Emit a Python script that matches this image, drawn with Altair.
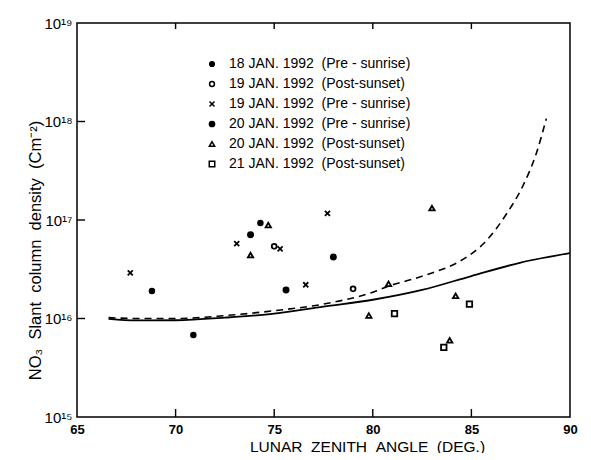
import json
import altair as alt
import pandas as pd

NB = "\u00a0"

# ---------------- data ----------------
series_labels = [
    "18 JAN. 1992" + NB * 2 + "(Pre - sunrise)",
    "19 JAN. 1992" + NB * 2 + "(Post-sunset)",
    "19 JAN. 1992" + NB * 2 + "(Pre - sunrise)",
    "20 JAN. 1992" + NB * 2 + "(Pre - sunrise)",
    "20 JAN. 1992" + NB * 2 + "(Post-sunset)",
    "21 JAN. 1992" + NB * 2 + "(Post-sunset)",
]

jan18_pre_x = [68.8, 70.9, 74.3]
jan18_pre_y = [1.9e16, 6.8e15, 9.3e16]

jan19_post_x = [75.0, 79.0]
jan19_post_y = [5.4e16, 2.0e16]

jan19_pre_x = [67.7, 73.1, 75.3, 76.6, 77.7]
jan19_pre_y = [2.9e16, 5.75e16, 5.1e16, 2.2e16, 1.17e17]

jan20_pre_x = [73.8, 75.6, 78.0]
jan20_pre_y = [7.1e16, 1.95e16, 4.2e16]

jan20_post_x = [74.7, 73.8, 83.0, 80.8, 79.8, 84.2, 83.9]
jan20_post_y = [8.9e16, 4.4e16, 1.32e17, 2.25e16, 1.07e16, 1.7e16, 6.0e15]

jan21_post_x = [81.1, 84.9, 83.6]
jan21_post_y = [1.12e16, 1.4e16, 5.1e15]

solid_x = [66.6, 68.0, 70.0, 72.5, 75.0, 77.5, 80.0, 82.5, 85.0, 87.5, 90.0]
solid_y = [9.9e15, 9.55e15, 9.6e15, 1.02e16, 1.12e16, 1.32e16, 1.55e16,
           1.95e16, 2.7e16, 3.7e16, 4.6e16]

dashed_x = [66.6, 68.0, 70.0, 72.5, 75.0, 77.5, 80.0, 81.0, 82.0, 83.0,
            84.4, 85.8, 86.8, 87.6, 88.3, 88.8]
dashed_y = [1.02e16, 1.0e16, 1.0e16, 1.07e16, 1.2e16, 1.4e16, 1.85e16,
            2.2e16, 2.5e16, 2.9e16, 3.8e16, 6.3e16, 1.17e17, 2.2e17,
            4.8e17, 1.07e18]

x_ticks = [65, 70, 75, 80, 85, 90]
y_ticks = [1e15, 1e16, 1e17, 1e18, 1e19]
y_tick_labels = ["10¹⁵", "10¹⁶", "10¹⁷", "10¹⁸", "10¹⁹"]

x_title = "LUNAR" + NB * 2 + "ZENITH" + NB * 2 + "ANGLE" + NB * 2 + "(DEG.)"
y_title = "NO₃" + NB * 2 + "Slant" + NB * 2 + "column" + NB * 2 + "density" + NB * 2 + "(Cm⁻²)"

# ---------------- tables ----------------
groups = [
    (jan18_pre_x, jan18_pre_y),
    (jan19_post_x, jan19_post_y),
    (jan19_pre_x, jan19_pre_y),
    (jan20_pre_x, jan20_pre_y),
    (jan20_post_x, jan20_post_y),
    (jan21_post_x, jan21_post_y),
]
rows = []
for lab, (xs, ys) in zip(series_labels, groups):
    for xv, yv in zip(xs, ys):
        rows.append({"series": lab, "angle": xv, "scd": yv})
pts = pd.DataFrame(rows)
solid = pd.DataFrame({"angle": solid_x, "scd": solid_y})
dashed = pd.DataFrame({"angle": dashed_x, "scd": dashed_y})

W, H = 493, 394
FONT = "Liberation Sans"

xscale = alt.Scale(domain=[65, 90], nice=False, zero=False)
yscale = alt.Scale(type="log", domain=[1e15, 1e19], nice=False)

label_expr = f"{json.dumps(y_tick_labels, ensure_ascii=False)}[round(log(datum.value)/LN10) - 15]"

x_enc = alt.X("angle:Q", scale=xscale,
              axis=alt.Axis(values=x_ticks, title=x_title,
                            tickSize=0, labelPadding=6, labelFontSize=13,
                            labelFontWeight="bold", labelFlush=False,
                            titleFontSize=15.5, titleFontWeight="normal",
                            titleX=290, titleY=34, titleBaseline="alphabetic",
                            titleAlign="center", grid=False))
y_enc = alt.Y("scd:Q", scale=yscale,
              axis=alt.Axis(values=y_ticks, labelExpr=label_expr,
                            title=y_title,
                            tickSize=0, labelPadding=5, labelFontSize=15,
                            titleFontSize=16.5, titleFontWeight="normal",
                            titleX=-34, titleY=227, titleAngle=-90,
                            titleAlign="center", titleBaseline="bottom",
                            grid=False))

shape_range = ["circle", "circle", "M-1,-1L1,1M1,-1L-1,1", "circle",
               "triangle-up", "square"]
fill_range = ["black", "white", "white", "black", "white", "white"]
size_range = [22, 30, 28, 46, 24, 11]

points = alt.Chart(pts).mark_point(filled=False, stroke="black",
                                   strokeWidth=1.8, opacity=1).encode(
    x=x_enc,
    y=y_enc,
    shape=alt.Shape("series:N", scale=alt.Scale(domain=series_labels, range=shape_range),
                    legend=alt.Legend(title=None, orient="none", legendX=128, legendY=34,
                                      padding=0, rowPadding=6, labelFontSize=14,
                                      labelFont=FONT, labelOffset=10, labelLimit=0,
                                      symbolStrokeColor="black", symbolStrokeWidth=1.5)),
    fill=alt.Fill("series:N", scale=alt.Scale(domain=series_labels, range=fill_range)),
    size=alt.Size("series:N", scale=alt.Scale(domain=series_labels, range=size_range)),
)

solid_line = alt.Chart(solid).mark_line(color="black", strokeWidth=1.8,
                                        interpolate="monotone").encode(
    x=alt.X("angle:Q", scale=xscale), y=alt.Y("scd:Q", scale=yscale))
dashed_line = alt.Chart(dashed).mark_line(color="black", strokeWidth=1.6,
                                          strokeDash=[7, 5],
                                          interpolate="monotone").encode(
    x=alt.X("angle:Q", scale=xscale), y=alt.Y("scd:Q", scale=yscale))

xt = pd.DataFrame({"angle": x_ticks[1:-1]})
yt = pd.DataFrame({"scd": y_ticks[1:-1]})
bottom_ticks = alt.Chart(xt).mark_rule(color="black", strokeWidth=1.4).encode(
    x=alt.X("angle:Q", scale=xscale), y=alt.value(H), y2=alt.value(H - 8))
top_ticks = alt.Chart(xt).mark_rule(color="black", strokeWidth=1.4).encode(
    x=alt.X("angle:Q", scale=xscale), y=alt.value(0), y2=alt.value(6))
left_ticks = alt.Chart(yt).mark_rule(color="black", strokeWidth=1.4).encode(
    y=alt.Y("scd:Q", scale=yscale), x=alt.value(0), x2=alt.value(8))

chart = alt.layer(dashed_line, solid_line, bottom_ticks, top_ticks, left_ticks,
                  points).properties(
    width=W, height=H,
    autosize=alt.AutoSizeParams(type="none"),
    padding={"left": 69, "top": 15, "right": 13, "bottom": 36},
    background="white",
).configure_view(stroke="black", strokeWidth=1.5).configure_axis(
    labelFont=FONT, titleFont=FONT, labelColor="black", titleColor="black",
    domain=False,
).configure_legend(labelColor="black")

chart.save("out.html", embed_options={"renderer": "svg", "actions": False})
